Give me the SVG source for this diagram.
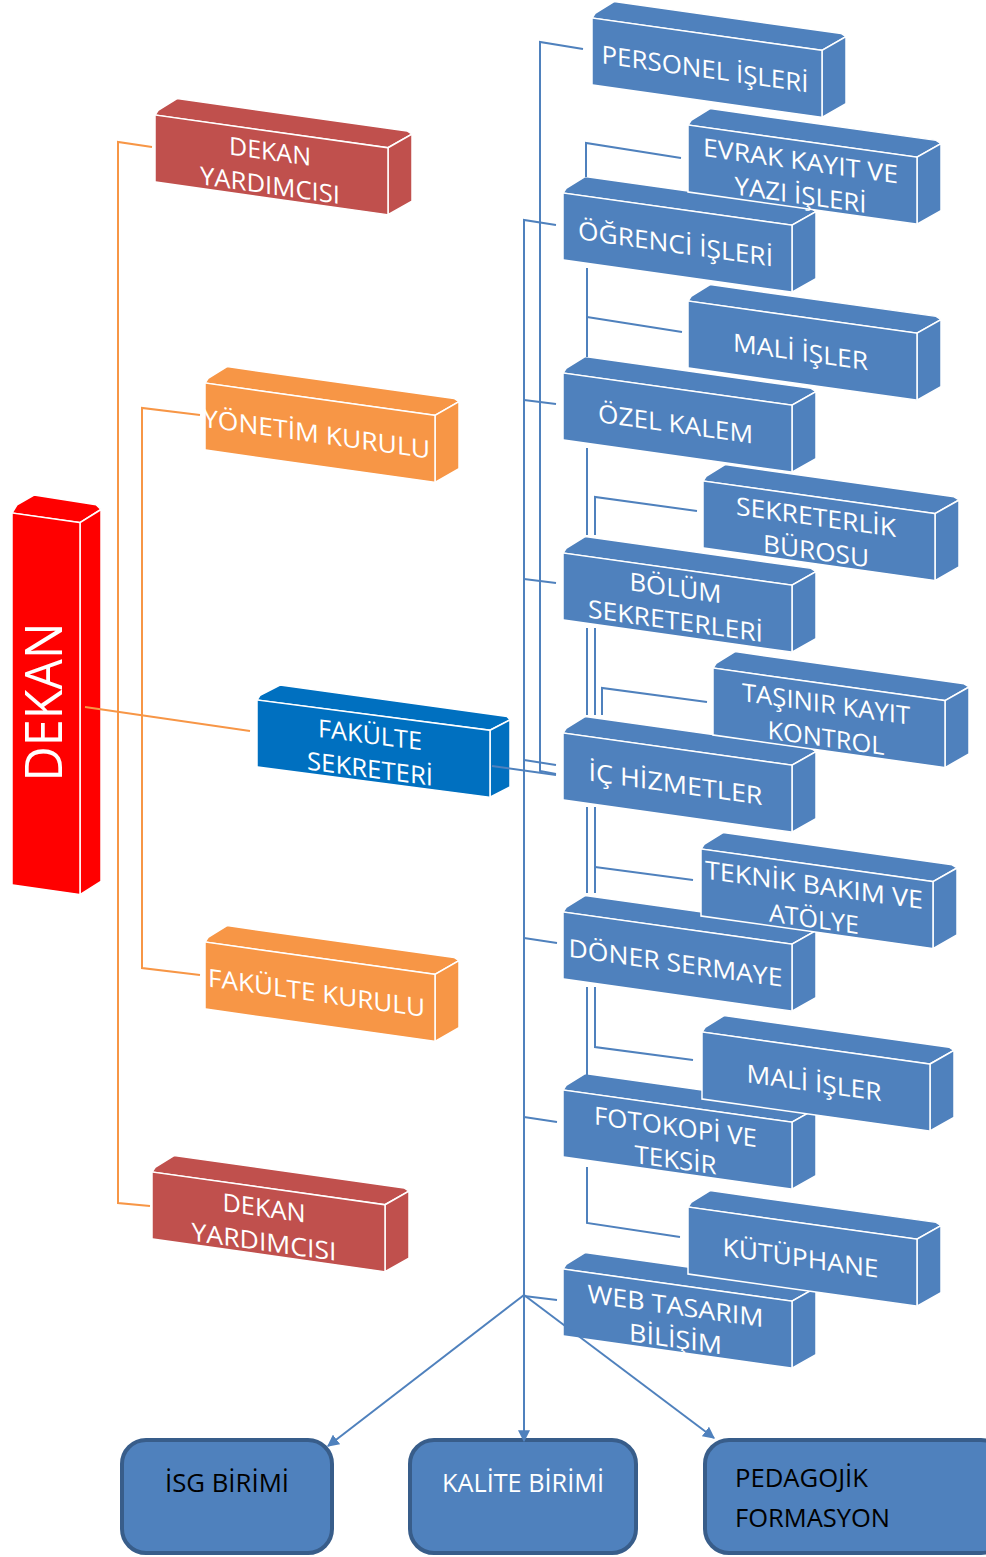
<svg xmlns="http://www.w3.org/2000/svg" width="986" height="1557" viewBox="0 0 986 1557">
<style>
.bl polygon,.bl rect{fill:#4F81BD;stroke:#fff;stroke-width:1.5}
.dk polygon,.dk rect{fill:#FF0000;stroke:#fff;stroke-width:1.5}
.dy polygon,.dy rect{fill:#C0504D;stroke:#fff;stroke-width:1.5}
.or polygon,.or rect{fill:#F79646;stroke:#fff;stroke-width:1.5}
.fs polygon,.fs rect{fill:#0070C0;stroke:#fff;stroke-width:1.5}
text{font-family:"Open Sans","Noto Sans","DejaVu Sans",sans-serif}
.t{fill:#fff;font-size:25px;text-anchor:middle}
.b{fill:#4F81BD;stroke:#385D8A;stroke-width:4}
.bt{font-size:26px}
.cb{fill:none;stroke:#4F81BD;stroke-width:2}
.co{fill:none;stroke:#F79646;stroke-width:2}
</style>
<defs>
<marker id="ah" viewBox="0 0 10 10" refX="9" refY="5" markerWidth="6" markerHeight="6" orient="auto" markerUnits="strokeWidth">
<path d="M0,0 L10,5 L0,10 z" fill="#4F81BD"/>
</marker>
</defs>

<g id="dekan">
<g class="dk" transform="translate(12,513) skewY(8)">
<polygon points="0,0 5,-9 22,-21 84,-20 89,-16 68,0"/>
<polygon points="68,0 89,-16 89,356 68,372"/>
<rect width="68" height="372"/>
</g>
<text class="t" transform="translate(62,702) rotate(-90)" style="font-size:52px" textLength="159" lengthAdjust="spacingAndGlyphs">DEKAN</text>
</g>

<g id="dekan-yardimcisi-1" class="dy" transform="translate(155,115) skewY(8)">
<polygon points="0,0 3,-5 22,-19.5 252,-19.5 257,-17 233,0"/>
<polygon points="233,0 257,-17 257,50 233,67"/>
<rect width="233" height="67"/>
<text class="t" x="115" y="29" textLength="82" lengthAdjust="spacingAndGlyphs">DEKAN</text>
<text class="t" x="115" y="63" textLength="140" lengthAdjust="spacingAndGlyphs">YARDIMCISI</text>
</g>

<g id="yonetim-kurulu" class="or" transform="translate(205,383) skewY(8)">
<polygon points="0,0 3,-5 22,-19.5 249,-19.5 254,-17 230,0"/>
<polygon points="230,0 254,-17 254,50 230,67"/>
<rect width="230" height="67"/>
<text class="t" x="111.5" y="44" textLength="227" lengthAdjust="spacingAndGlyphs">YÖNETİM KURULU</text>
</g>

<g id="fakulte-sekreteri" class="fs" transform="translate(257,700) skewY(7.4)">
<polygon points="0,0 3,-5 23,-18 250,-16 253,-13 233,0"/>
<polygon points="233,0 253,-13 253,54 233,67"/>
<rect width="233" height="67"/>
<text class="t" x="113" y="29" textLength="104" lengthAdjust="spacingAndGlyphs">FAKÜLTE</text>
<text class="t" x="113" y="63" textLength="126" lengthAdjust="spacingAndGlyphs">SEKRETERİ</text>
</g>

<g id="fakulte-kurulu" class="or" transform="translate(205,942) skewY(8)">
<polygon points="0,0 3,-5 22,-19.5 249,-19.5 254,-17 230,0"/>
<polygon points="230,0 254,-17 254,50 230,67"/>
<rect width="230" height="67"/>
<text class="t" x="111.5" y="44" textLength="217" lengthAdjust="spacingAndGlyphs">FAKÜLTE KURULU</text>
</g>

<g id="dekan-yardimcisi-2" class="dy" transform="translate(152,1172) skewY(8)">
<polygon points="0,0 3,-5 22,-19.5 252,-19.5 257,-17 233,0"/>
<polygon points="233,0 257,-17 257,50 233,67"/>
<rect width="233" height="67"/>
<text class="t" x="112" y="29" textLength="83" lengthAdjust="spacingAndGlyphs">DEKAN</text>
<text class="t" x="112" y="63" textLength="145" lengthAdjust="spacingAndGlyphs">YARDIMCISI</text>
</g>

<g id="ogrenci-isleri" class="bl" transform="translate(563,193) skewY(8)">
<polygon points="0,0 3,-5 22,-19.5 248,-19.5 253,-17 229,0"/>
<polygon points="229,0 253,-17 253,50 229,67"/>
<rect width="229" height="67"/>
<text class="t" x="112.5" y="44" textLength="195" lengthAdjust="spacingAndGlyphs">ÖĞRENCİ İŞLERİ</text>
</g>

<g id="ozel-kalem" class="bl" transform="translate(563,373) skewY(8)">
<polygon points="0,0 3,-5 22,-19.5 248,-19.5 253,-17 229,0"/>
<polygon points="229,0 253,-17 253,50 229,67"/>
<rect width="229" height="67"/>
<text class="t" x="112.5" y="44" textLength="155" lengthAdjust="spacingAndGlyphs">ÖZEL KALEM</text>
</g>

<g id="bolum-sekreterleri" class="bl" transform="translate(563,553) skewY(8)">
<polygon points="0,0 3,-5 22,-19.5 248,-19.5 253,-17 229,0"/>
<polygon points="229,0 253,-17 253,50 229,67"/>
<rect width="229" height="67"/>
<text class="t" x="112.5" y="28" textLength="92" lengthAdjust="spacingAndGlyphs">BÖLÜM</text>
<text class="t" x="112.5" y="61" textLength="175" lengthAdjust="spacingAndGlyphs">SEKRETERLERİ</text>
</g>

<g id="ic-hizmetler" class="bl" transform="translate(563,733) skewY(8)">
<polygon points="0,0 3,-5 22,-19.5 248,-19.5 253,-17 229,0"/>
<polygon points="229,0 253,-17 253,50 229,67"/>
<rect width="229" height="67"/>
<text class="t" x="112.5" y="44" textLength="174" lengthAdjust="spacingAndGlyphs">İÇ HİZMETLER</text>
</g>

<g id="doner-sermaye" class="bl" transform="translate(563,912) skewY(8)">
<polygon points="0,0 3,-5 22,-19.5 248,-19.5 253,-17 229,0"/>
<polygon points="229,0 253,-17 253,50 229,67"/>
<rect width="229" height="67"/>
<text class="t" x="112.5" y="44" textLength="214" lengthAdjust="spacingAndGlyphs">DÖNER SERMAYE</text>
</g>

<g id="fotokopi-ve-teksir" class="bl" transform="translate(563,1090) skewY(8)">
<polygon points="0,0 3,-5 22,-19.5 248,-19.5 253,-17 229,0"/>
<polygon points="229,0 253,-17 253,50 229,67"/>
<rect width="229" height="67"/>
<text class="t" x="112.5" y="30" textLength="163" lengthAdjust="spacingAndGlyphs">FOTOKOPİ VE</text>
<text class="t" x="112.5" y="63" textLength="82" lengthAdjust="spacingAndGlyphs">TEKSİR</text>
</g>

<g id="web-tasarim-bilisim" class="bl" transform="translate(563,1269) skewY(8)">
<polygon points="0,0 3,-5 22,-19.5 248,-19.5 253,-17 229,0"/>
<polygon points="229,0 253,-17 253,50 229,67"/>
<rect width="229" height="67"/>
<text class="t" x="112.5" y="30" textLength="176" lengthAdjust="spacingAndGlyphs">WEB TASARIM</text>
<text class="t" x="112.5" y="63" textLength="93" lengthAdjust="spacingAndGlyphs">BİLİŞİM</text>
</g>

<g id="personel-isleri" class="bl" transform="translate(592,18) skewY(8)">
<polygon points="0,0 3,-5 22,-19.5 249,-19.5 254,-17 230,0"/>
<polygon points="230,0 254,-17 254,50 230,67"/>
<rect width="230" height="67"/>
<text class="t" x="113" y="44" textLength="207" lengthAdjust="spacingAndGlyphs">PERSONEL İŞLERİ</text>
</g>

<g id="evrak-kayit" class="bl" transform="translate(688,125) skewY(8)">
<polygon points="0,0 3,-5 22,-19.5 248,-19.5 253,-17 229,0"/>
<polygon points="229,0 253,-17 253,50 229,67"/>
<rect width="229" height="67"/>
<text class="t" x="112.5" y="29" textLength="195" lengthAdjust="spacingAndGlyphs">EVRAK KAYIT VE</text>
<text class="t" x="112.5" y="63" textLength="132" lengthAdjust="spacingAndGlyphs">YAZI İŞLERİ</text>
</g>

<g id="mali-isler-1" class="bl" transform="translate(688,301) skewY(8)">
<polygon points="0,0 3,-5 22,-19.5 248,-19.5 253,-17 229,0"/>
<polygon points="229,0 253,-17 253,50 229,67"/>
<rect width="229" height="67"/>
<text class="t" x="112.5" y="44" textLength="135" lengthAdjust="spacingAndGlyphs">MALİ İŞLER</text>
</g>

<g id="sekreterlik-burosu" class="bl" transform="translate(703,481) skewY(8)">
<polygon points="0,0 3,-5 22,-19.5 251,-19.5 256,-17 232,0"/>
<polygon points="232,0 256,-17 256,50 232,67"/>
<rect width="232" height="67"/>
<text class="t" x="113" y="29" textLength="160" lengthAdjust="spacingAndGlyphs">SEKRETERLİK</text>
<text class="t" x="113" y="63" textLength="106" lengthAdjust="spacingAndGlyphs">BÜROSU</text>
</g>

<g id="tasinir-kayit-kontrol" class="bl" transform="translate(713,668) skewY(8)">
<polygon points="0,0 3,-5 22,-19.5 251,-19.5 256,-17 232,0"/>
<polygon points="232,0 256,-17 256,50 232,67"/>
<rect width="232" height="67"/>
<text class="t" x="113" y="29" textLength="168" lengthAdjust="spacingAndGlyphs">TAŞINIR KAYIT</text>
<text class="t" x="113" y="63" textLength="117" lengthAdjust="spacingAndGlyphs">KONTROL</text>
</g>

<g id="teknik-bakim" class="bl" transform="translate(701,849) skewY(8)">
<polygon points="0,0 3,-5 22,-19.5 251,-19.5 256,-17 232,0"/>
<polygon points="232,0 256,-17 256,50 232,67"/>
<rect width="232" height="67"/>
<text class="t" x="113" y="29" textLength="218" lengthAdjust="spacingAndGlyphs">TEKNİK BAKIM VE</text>
<text class="t" x="113" y="63" textLength="90" lengthAdjust="spacingAndGlyphs">ATÖLYE</text>
</g>

<g id="mali-isler-2" class="bl" transform="translate(702,1032) skewY(8)">
<polygon points="0,0 3,-5 22,-19.5 247,-19.5 252,-17 228,0"/>
<polygon points="228,0 252,-17 252,50 228,67"/>
<rect width="228" height="67"/>
<text class="t" x="112" y="44" textLength="135" lengthAdjust="spacingAndGlyphs">MALİ İŞLER</text>
</g>

<g id="kutuphane" class="bl" transform="translate(688,1207) skewY(8)">
<polygon points="0,0 3,-5 22,-19.5 248,-19.5 253,-17 229,0"/>
<polygon points="229,0 253,-17 253,50 229,67"/>
<rect width="229" height="67"/>
<text class="t" x="112.5" y="44" textLength="156" lengthAdjust="spacingAndGlyphs">KÜTÜPHANE</text>
</g>

<g id="isg-birimi">
<rect class="b" x="122" y="1440" width="210" height="113" rx="24"/>
<text class="bt" x="227" y="1492" text-anchor="middle" fill="#000" textLength="124" lengthAdjust="spacingAndGlyphs">İSG BİRİMİ</text>
</g>
<g id="kalite-birimi">
<rect class="b" x="410" y="1440" width="226" height="113" rx="24"/>
<text class="bt" x="523" y="1492" text-anchor="middle" fill="#fff" textLength="162" lengthAdjust="spacingAndGlyphs">KALİTE BİRİMİ</text>
</g>
<g id="pedagojik-formasyon">
<rect class="b" x="705" y="1440" width="300" height="113" rx="24"/>
<text class="bt" x="735" y="1487" fill="#000" textLength="133" lengthAdjust="spacingAndGlyphs">PEDAGOJİK</text>
<text class="bt" x="735" y="1527" fill="#000" textLength="155" lengthAdjust="spacingAndGlyphs">FORMASYON</text>
</g>

<g id="connectors">
<polyline class="co" points="152,147 118,142 118,1203 150,1206"/>
<polyline class="co" points="200,415 142,408 142,968 200,975"/>
<polyline class="co" points="85,707 250,731"/>
<polyline class="cb" points="583,49 540,42 540,771 556,774"/>
<polyline class="cb" points="556,225 524,220 524,1295"/>
<polyline class="cb" points="524,400 556,404"/>
<polyline class="cb" points="524,579 556,583"/>
<polyline class="cb" points="524,760 556,765"/>
<polyline class="cb" points="524,938 557,943"/>
<polyline class="cb" points="524,1117 557,1122"/>
<polyline class="cb" points="524,1296 557,1300"/>
<polyline class="cb" points="492,766 556,775"/>
<polyline class="cb" points="586,177 586,143 681,158"/>
<polyline class="cb" points="587,268 587,357"/>
<polyline class="cb" points="587,317 682,332"/>
<polyline class="cb" points="587,448 587,535"/>
<polyline class="cb" points="595,535 595,497 697,511"/>
<polyline class="cb" points="587,628 587,715"/>
<polyline class="cb" points="595,628 595,715"/>
<polyline class="cb" points="602,715 602,688 707,702"/>
<polyline class="cb" points="587,807 587,893"/>
<polyline class="cb" points="595,807 595,893"/>
<polyline class="cb" points="595,867 693,880"/>
<polyline class="cb" points="587,987 587,1075"/>
<polyline class="cb" points="595,987 595,1047 693,1060"/>
<polyline class="cb" points="587,1167 587,1223 680,1237"/>
<line class="cb" x1="524" y1="1295" x2="328" y2="1446" marker-end="url(#ah)"/>
<line class="cb" x1="524" y1="1295" x2="524" y2="1441" marker-end="url(#ah)"/>
<line class="cb" x1="524" y1="1295" x2="714" y2="1438" marker-end="url(#ah)"/>
</g>
</svg>
